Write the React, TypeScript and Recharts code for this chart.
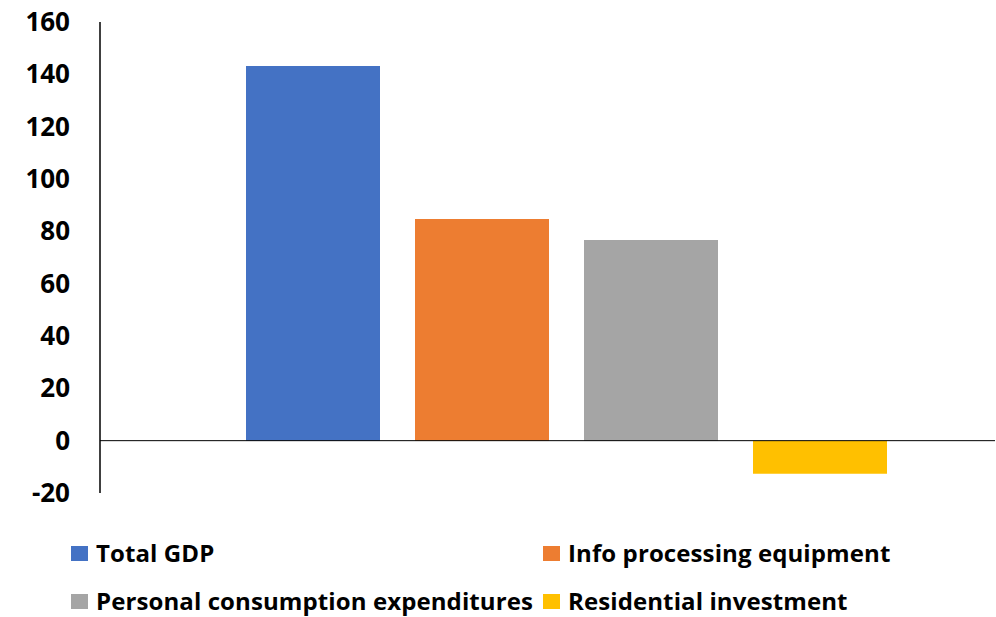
import { BarChart, Bar, XAxis, YAxis, ReferenceLine } from "recharts";

const seriesNames = [
    "Total GDP",
    "Info processing equipment",
    "Personal consumption expenditures",
    "Residential investment"
];
const seriesValues = [143.2, 84.7, 76.7, -12.6];
const seriesColors = ["#4472C4", "#ED7D31", "#A5A5A5", "#FFC000"];
const yTicks = [-20, 0, 20, 40, 60, 80, 100, 120, 140, 160];

const row: Record<string, number | string> = { name: "" };
seriesNames.forEach((n, i) => {
    row[n] = seriesValues[i];
});
const data = [row];

const font = "'Open Sans', Lato, sans-serif";

const YTick = (props: any) => {
    const { y, payload } = props;
    return (
        <text
            x={70}
            y={y}
            dy={9}
            textAnchor="end"
            fontFamily={font}
            fontWeight={700}
            fontSize={26}
            fill="#000"
        >
            {payload.value}
        </text>
    );
};

// legend laid out as a 2x2 grid like the original
const legendPos = [
    { x: 71, y: 553 },
    { x: 543, y: 553 },
    { x: 71, y: 601 },
    { x: 543, y: 601 }
];

export default function App() {
    return (
        <div
            style={{
                position: "absolute",
                left: 0,
                top: 0,
                width: 996,
                height: 617,
                background: "#fff",
                overflow: "hidden"
            }}
        >
            <BarChart
                width={996}
                height={530}
                data={data}
                margin={{ top: 22, right: 1, left: 0, bottom: 37 }}
                barSize={134}
                barGap={35}
            >
                <XAxis dataKey="name" hide padding={{ left: 37, right: 0 }} />
                <YAxis
                    width={100}
                    domain={[-20, 160]}
                    ticks={yTicks}
                    interval={0}
                    tickLine={false}
                    axisLine={{ stroke: "#000", strokeWidth: 1.5 }}
                    tick={<YTick />}
                />
                <ReferenceLine y={0} stroke="#000" strokeWidth={1} />
                {seriesNames.map((n, i) => (
                    <Bar
                        key={n}
                        dataKey={n}
                        fill={seriesColors[i]}
                        isAnimationActive={false}
                    />
                ))}
            </BarChart>
            {seriesNames.map((n, i) => (
                <div
                    key={n}
                    style={{
                        position: "absolute",
                        left: legendPos[i].x,
                        top: legendPos[i].y - 13,
                        height: 26,
                        lineHeight: "26px",
                        display: "flex",
                        alignItems: "center",
                        fontFamily: font,
                        fontWeight: 700,
                        fontSize: 24,
                        letterSpacing: 0.1,
                        color: "#000",
                        whiteSpace: "nowrap"
                    }}
                >
                    <span
                        style={{
                            display: "inline-block",
                            width: 17,
                            height: 15,
                            background: seriesColors[i],
                            marginRight: 8
                        }}
                    />
                    {n}
                </div>
            ))}
        </div>
    );
}
